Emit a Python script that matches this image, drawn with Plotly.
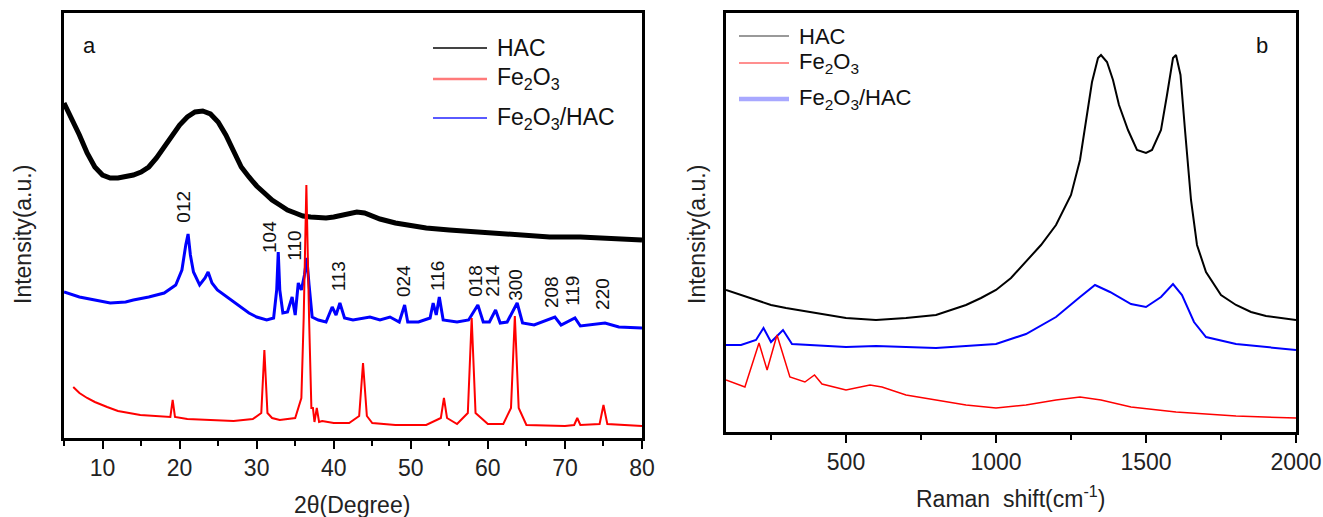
import plotly.graph_objects as go

# ---------------- XRD (panel a) ----------------
xrd_hac_2theta = [5, 6, 7, 8, 9, 10, 11, 12, 13, 14, 15, 16, 17, 18, 19, 20, 21, 22, 23, 24, 25, 26, 27,
                  28, 29, 30, 31, 32, 33, 34, 35, 36, 37, 38, 39, 40, 41, 42, 43, 44, 45, 46, 48, 50,
                  52, 55, 59, 64, 68, 72, 76, 80]
xrd_hac_int = [335, 320, 303, 285, 271, 263, 260, 260, 261, 263, 266, 271, 280, 291, 303, 313, 321, 326,
               327, 324, 316, 303, 287, 271, 261, 252, 245, 238, 233, 228, 225, 222, 221, 220, 220, 221,
               223, 225, 226, 225, 222, 219, 215, 212, 210, 208, 206, 203, 201, 201, 200, 198]

xrd_comp_2theta = [5, 7, 9, 11, 13, 14, 16, 18, 19.5, 20.3, 20.8, 21.1, 21.4, 21.8, 22.6, 23.3, 23.7, 24.2,
                   24.9, 26, 27, 28, 29, 30, 31.3, 32.2, 32.6, 32.8, 33.0, 33.4, 34.0, 34.6, 35.0, 35.4,
                   35.8, 36.2, 36.5, 36.8, 37.2, 38, 39, 39.8, 40.3, 40.8, 41.4, 42.5, 44.7, 46, 47.3,
                   48.5, 49.2, 49.6, 51, 52.5, 52.9, 53.3, 53.7, 54.2, 56, 57.5, 58.7, 59.4, 60.2, 61,
                   61.6, 62.5, 63.8, 64.5, 66, 68.7, 69.5, 71.3, 72, 75.2, 77, 80]
xrd_comp_int = [146, 141, 138, 135, 136, 138, 141, 145, 153, 168, 193, 204, 183, 166, 153, 160, 166, 155,
                148, 142, 136, 131, 125, 121, 118, 120, 148, 186, 148, 125, 126, 141, 123, 155, 148, 163,
                180, 153, 121, 118, 116, 131, 123, 135, 120, 118, 121, 118, 121, 116, 133, 116, 116, 120,
                135, 123, 141, 118, 116, 118, 133, 116, 116, 128, 115, 116, 135, 115, 113, 121, 113, 120,
                112, 115, 111, 110]

xrd_fe2o3_2theta = [6.2, 7, 8, 9, 10.6, 12, 14.9, 17, 18.8, 19.1, 19.4, 21, 23.6, 27, 29.5, 30.6, 31.0,
                    31.4, 32, 33, 35, 35.8, 36.1, 36.45, 36.8, 37.1, 37.3, 37.5, 37.8, 38.1, 38.5, 40,
                    42, 43.3, 43.8, 44.3, 45, 48, 52, 53.9, 54.3, 54.7, 56, 57.4, 57.9, 58.4, 60, 62,
                    63.0, 63.5, 64.0, 65, 70, 71.2, 71.6, 72, 74.5, 75.0, 75.5, 78, 80]
xrd_fe2o3_int = [51, 45, 40, 36, 31, 27, 23, 22, 21, 38, 21, 19, 18, 17, 19, 25, 88, 25, 20, 18, 20, 40,
                 120, 253, 120, 30, 30, 16, 30, 16, 17, 15, 15, 22, 75, 22, 15, 13, 13, 20, 40, 20, 14,
                 25, 120, 25, 14, 14, 30, 122, 30, 13, 12, 13, 20, 13, 14, 33, 14, 13, 12]

# Miller indices marked above the composite pattern
hkl_labels = ["012", "104", "110", "113", "024", "116", "018", "214", "300", "208", "119", "220"]
hkl_2theta = [20.4, 31.6, 34.8, 40.6, 49.0, 53.4, 58.3, 60.5, 63.5, 68.2, 70.9, 74.8]
hkl_label_base = [213, 183, 175, 145, 139, 145, 139, 139, 135, 128, 130, 126]

# ---------------- Raman (panel b) ----------------
raman_hac_shift = [100, 150, 200, 250, 300, 400, 500, 600, 700, 800, 900, 950, 1000, 1050, 1100, 1150,
                   1200, 1250, 1280, 1300, 1320, 1340, 1350, 1370, 1390, 1410, 1440, 1470, 1500, 1520,
                   1550, 1570, 1590, 1600, 1615, 1630, 1650, 1670, 1700, 1750, 1800, 1850, 1900, 2000]
raman_hac_int = [142, 137, 132, 127, 124, 119, 114, 112, 114, 117, 127, 134, 142, 154, 170, 187, 207,
                 237, 272, 312, 350, 374, 377, 370, 352, 327, 302, 282, 279, 282, 302, 337, 374, 377,
                 357, 302, 232, 187, 160, 137, 127, 120, 116, 112]

raman_comp_shift = [100, 150, 200, 225, 250, 290, 320, 400, 500, 600, 700, 800, 900, 1000, 1100, 1200,
                    1280, 1330, 1380, 1450, 1500, 1550, 1590, 1620, 1660, 1700, 1800, 2000]
raman_comp_int = [87, 87, 92, 104, 90, 102, 88, 87, 85, 86, 85, 84, 86, 88, 98, 115, 135, 147, 140, 128,
                  125, 135, 148, 137, 110, 95, 88, 82]

raman_fe2o3_shift = [100, 163, 210, 237, 270, 313, 363, 395, 420, 500, 580, 620, 700, 800, 900, 1000,
                     1100, 1200, 1280, 1350, 1450, 1600, 1800, 2000]
raman_fe2o3_int = [52, 45, 89, 62, 97, 55, 50, 57, 48, 42, 47, 45, 37, 32, 27, 24, 27, 32, 35, 32, 25,
                   20, 16, 14]

series_names = ["HAC", "Fe<sub>2</sub>O<sub>3</sub>", "Fe<sub>2</sub>O<sub>3</sub>/HAC"]

FONT = "Arial, Liberation Sans, sans-serif"
W, H = 1323, 517

fig = go.Figure()

# panel a traces
fig.add_trace(go.Scatter(x=xrd_hac_2theta, y=xrd_hac_int, mode="lines",
                         line=dict(color="black", width=5), xaxis="x", yaxis="y", showlegend=False))
fig.add_trace(go.Scatter(x=xrd_comp_2theta, y=xrd_comp_int, mode="lines",
                         line=dict(color="#0000ff", width=3), xaxis="x", yaxis="y", showlegend=False))
fig.add_trace(go.Scatter(x=xrd_fe2o3_2theta, y=xrd_fe2o3_int, mode="lines",
                         line=dict(color="#ff0000", width=2), xaxis="x", yaxis="y", showlegend=False))

# panel b traces
fig.add_trace(go.Scatter(x=raman_hac_shift, y=raman_hac_int, mode="lines",
                         line=dict(color="black", width=2), xaxis="x2", yaxis="y2", showlegend=False))
fig.add_trace(go.Scatter(x=raman_comp_shift, y=raman_comp_int, mode="lines",
                         line=dict(color="#0000ff", width=2), xaxis="x2", yaxis="y2", showlegend=False))
fig.add_trace(go.Scatter(x=raman_fe2o3_shift, y=raman_fe2o3_int, mode="lines",
                         line=dict(color="#ff0000", width=1.5), xaxis="x2", yaxis="y2", showlegend=False))


def px(x):
    return x / W


def py(y):
    return 1 - y / H


axis_common = dict(showline=True, linewidth=2.5, linecolor="black", mirror=True, showgrid=False,
                   zeroline=False, automargin=False, ticks="outside", ticklen=8, tickwidth=2,
                   tickcolor="black", tickfont=dict(family=FONT, size=23, color="#222"))
yaxis_common = dict(showline=True, linewidth=2.5, linecolor="black", mirror=True, showgrid=False,
                    zeroline=False, automargin=False, ticks="", showticklabels=False)

fig.update_layout(
    template="none",
    width=W, height=H, autosize=False, margin=dict(l=0, r=0, t=0, b=0, pad=0),
    paper_bgcolor="white", plot_bgcolor="white",
    xaxis=dict(domain=[px(64), px(642)], range=[5, 80], tick0=0, dtick=10, anchor="y",
               minor=dict(dtick=5, ticklen=5, tickwidth=2, tickcolor="black", ticks="outside"),
               **axis_common),
    yaxis=dict(domain=[py(438), py(13)], range=[0, 425], anchor="x", **yaxis_common),
    xaxis2=dict(domain=[px(726), px(1296)], range=[100, 2000], tick0=0, dtick=500, anchor="y2",
                minor=dict(dtick=250, ticklen=5, tickwidth=2, tickcolor="black", ticks="outside"),
                **axis_common),
    yaxis2=dict(domain=[py(432), py(13)], range=[0, 419], anchor="x2", **yaxis_common),
    showlegend=False,
)

ann = []


def note(x, y, text, size, xanchor="center", yanchor="middle", angle=0, xref="paper", yref="paper",
         color="#222"):
    ann.append(dict(x=x, y=y, xref=xref, yref=yref, text=text, textangle=angle, showarrow=False,
                    xanchor=xanchor, yanchor=yanchor, font=dict(family=FONT, size=size, color=color)))


# Miller index labels
for lab, tt, base in zip(hkl_labels, hkl_2theta, hkl_label_base):
    note(tt, base, lab, 19, yanchor="bottom", angle=-90, xref="x", yref="y", color="#111")

# Panel letters
note(px(89), py(45), "a", 22, color="#111")
note(px(1262), py(45), "b", 22, color="#111")

# Axis titles
note(px(352), py(505), "2θ(Degree)", 23)
note(px(1010), py(497), "Raman\u00a0 shift(cm<sup>-1</sup>)", 23)
note(px(23), py(235), "Intensity(a.u.)", 23, angle=-90)
note(px(697), py(235), "Intensity(a.u.)", 23, angle=-90)

# Legend key for each panel (short line segments with labels)
shapes = []
leg_a = dict(x0=433, x1=487, tx=495, ys=[48, 79, 118],
             colors=["#444444", "#ff7a7a", "#5a5aff"], widths=[2, 2.5, 2], size=23)
leg_b = dict(x0=739, x1=789, tx=797, ys=[36, 63, 99],
             colors=["#777777", "#ff6a6a", "#a8a8ff"], widths=[1.5, 1.5, 4.5], size=22)
for leg in (leg_a, leg_b):
    for name, yy, c, w in zip(series_names, leg["ys"], leg["colors"], leg["widths"]):
        shapes.append(dict(type="line", xref="paper", yref="paper", x0=px(leg["x0"]), x1=px(leg["x1"]),
                           y0=py(yy), y1=py(yy), line=dict(color=c, width=w)))
        note(px(leg["tx"]), py(yy), name, leg["size"], xanchor="left", color="#111")

fig.update_layout(annotations=ann, shapes=shapes)

fig.write_html("out.html", config={"responsive": False})
